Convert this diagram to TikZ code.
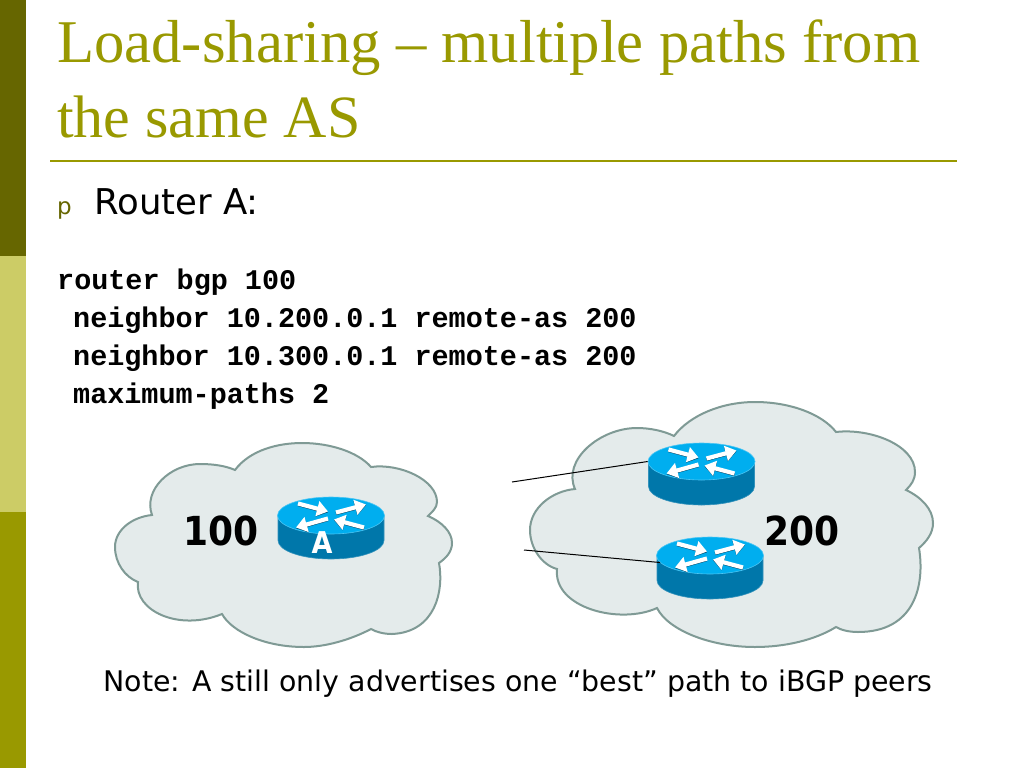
\documentclass[tikz,border=0pt]{standalone}
\usepackage{fontspec}
\usetikzlibrary{shapes.geometric,arrows.meta}
\setmainfont{Liberation Serif}
\newfontfamily\sansf{DejaVu Sans}
\newfontfamily\labf[FakeStretch=0.9]{DejaVu Sans}
\newfontfamily\monof{Liberation Mono}
\definecolor{olivedark}{HTML}{666600}
\definecolor{olivelight}{HTML}{CCCC66}
\definecolor{olivemid}{HTML}{999900}
\definecolor{cloudfill}{HTML}{E4EBEB}
\definecolor{cloudline}{HTML}{7F9A95}
\definecolor{rtop}{HTML}{00AEEF}
\definecolor{rside}{HTML}{0077AA}
\definecolor{rshadow}{HTML}{004466}
\tikzset{
  cloudshape/.style={fill=cloudfill,draw=cloudline,line width=2pt,line join=miter},
  rtopface/.style={ellipse,fill=rtop,draw=rtop!70!white,line width=.6pt,inner sep=0pt,minimum width=107pt,minimum height=37pt},
  rsideface/.style={fill=rside,draw=rside!80!white,line width=.6pt},
  rarrow/.style={white,line width=4.2pt,-{Triangle[length=11pt,width=15pt]}},
  rarrowsh/.style={rshadow,line width=3.6pt,-{Triangle[length=11pt,width=14pt]}},
  titletext/.style={anchor=base west,inner sep=0pt,text=olivemid,font=\fontsize{60.7}{60.7}\selectfont},
  codetext/.style={anchor=base west,inner sep=0pt,text=black,font=\monof\bfseries\fontsize{28.45}{28.45}\selectfont},
  bodytext/.style={anchor=base west,inner sep=0pt,text=black,font=\sansf\fontsize{35.5}{35.5}\selectfont},
  astext/.style={anchor=base west,inner sep=0pt,text=black,font=\labf\bfseries\fontsize{40}{40}\selectfont},
  link/.style={black,line width=1pt}
}
\newcommand\routerdraw[3]{%
  \begin{scope}[shift={(#2,#3)}]
    \path[rsideface] (-53,0) -- (-53,25) .. controls (-53,35.2) and (-29.5,43.5) .. (0,43.5) .. controls (29.5,43.5) and (53,35.2) .. (53,25) -- (53,0) -- cycle;
    \node[rtopface] (#1) at (0,0) {};
    \foreach \ax/\ay/\bx/\by in {-33/-12/-3/-4, 5/-3/35/-11, -3/3/-35/12, 33/12/3/4}{
      \draw[rarrowsh] (\ax,\ay+.8) -- (\bx,\by+.8);
      \draw[rarrow] (\ax,\ay) -- (\bx,\by);
    }
  \end{scope}}
\begin{document}
\begin{tikzpicture}[x=1pt,y=-1pt]
\useasboundingbox (0,0) rectangle (1024,768);
\fill[white] (0,0) rectangle (1024,768);
\fill[olivedark] (0,0) rectangle (25.5,256);
\fill[olivelight] (0,256) rectangle (25.5,512);
\fill[olivemid] (0,512) rectangle (25.5,768);
\node[titletext] (t1) at (57,63) {Load-sharing – multiple paths from};
\node[titletext,font=\fontsize{60}{60}\selectfont] (t2) at (57,137) {the same AS};
\draw[olivemid,line width=2pt] (50,161) -- (957,161);
\node[anchor=base west,inner sep=0pt,text=olivedark,font=\sansf\fontsize{23}{23}\selectfont] (bul) at (57,214) {p};
\node[bodytext] (ra) at (94,214) {Router A:};
\node[codetext] (c1) at (57,289) {router bgp 100};
\node[codetext] (c2) at (73,327) {neighbor 10.200.0.1 remote-as 200};
\node[codetext] (c3) at (73,365) {neighbor 10.300.0.1 remote-as 200};
\node[codetext] (c4) at (73,403) {maximum-paths 2};
% cloud 100
\path[cloudshape] (235,470)
  .. controls (250,450) and (278,443) .. (302,443)
  .. controls (330,443) and (358,452) .. (371,467)
  .. controls (400,463) and (437,480) .. (437,502)
  .. controls (437,508) and (432,512) .. (428,516)
  .. controls (442,522) and (452,532) .. (452,543)
  .. controls (452,552) and (446,558) .. (439,563)
  .. controls (444,590) and (436,632) .. (392,634)
  .. controls (384,634) and (376,632) .. (371,629)
  .. controls (350,640) and (325,647) .. (304,647)
  .. controls (265,647) and (232,632) .. (222,614)
  .. controls (178,632) and (134,610) .. (138,582)
  .. controls (125,577) and (115,563) .. (115,547)
  .. controls (115,530) and (132,517) .. (152,515)
  .. controls (143,490) and (170,464) .. (200,464)
  .. controls (214,464) and (226,466) .. (235,470) -- cycle;
% cloud 200
\path[cloudshape] (674,436)
  .. controls (690,415) and (722,402) .. (755,402)
  .. controls (790,402) and (822,414) .. (836,432)
  .. controls (870,428) and (915,445) .. (915,472)
  .. controls (915,480) and (911,485) .. (906,490)
  .. controls (921,497) and (933,509) .. (933,523)
  .. controls (933,533) and (927,541) .. (919,548)
  .. controls (925,585) and (915,632) .. (858,632)
  .. controls (849,632) and (841,630) .. (836,627)
  .. controls (815,640) and (785,647) .. (755,647)
  .. controls (710,647) and (668,630) .. (657,608)
  .. controls (620,625) and (553,608) .. (557,569)
  .. controls (542,565) and (530,548) .. (530,530)
  .. controls (530,508) and (552,491) .. (575,489)
  .. controls (562,460) and (600,428) .. (637,428)
  .. controls (650,428) and (664,431) .. (674,436) -- cycle;
\routerdraw{ra1}{331}{515.5}
\routerdraw{r1}{701.5}{461.5}
\routerdraw{r2}{710}{555.5}
\node[anchor=base,inner sep=0pt,text=white,font=\labf\bfseries\fontsize{30}{30}\selectfont] (alab) at (322,553) {A};
\node[astext] (as1) at (183,545) {100};
\node[astext] (as2) at (764,545) {200};
\coordinate (e1) at (512,482);
\coordinate (e2) at (524,550);
\draw[link] (e1) -- (r1.west);
\draw[link] (e2) -- (r2.188);
\node[bodytext,font=\sansf\fontsize{28.4}{28.4}\selectfont] (note) at (103.5,691) {Note: A still only advertises one “best” path to iBGP peers};
\end{tikzpicture}
\end{document}
